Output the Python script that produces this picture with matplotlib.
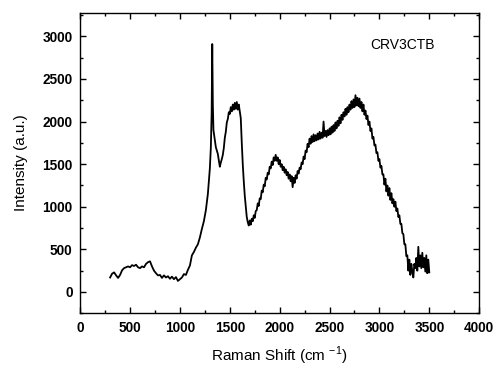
import matplotlib
matplotlib.use('Agg')
import matplotlib.pyplot as plt
from matplotlib.ticker import MultipleLocator

plt.rcParams['font.family'] = ['Liberation Sans', 'DejaVu Sans']
plt.rcParams['mathtext.fontset'] = 'custom'
plt.rcParams['mathtext.rm'] = 'Liberation Sans'

# Raman spectrum (cm-1, a.u.)
# low part, 300 - 1430
shift_low = [300, 320, 340, 360, 380, 400, 420, 440, 460, 480,
             500, 520, 540, 560, 580, 600, 620, 640, 660, 680,
             700, 720, 740, 760, 780, 800, 820, 840, 860, 880,
             900, 920, 940, 960, 980, 1000, 1020, 1040, 1060, 1080,
             1100, 1120, 1140, 1160, 1180, 1200, 1220, 1240, 1260, 1280,
             1300, 1310, 1318, 1324, 1330, 1336, 1350, 1360, 1380, 1400,
             1410, 1420, 1430]
int_low = [170, 215, 230, 195, 165, 200, 255, 280, 290, 300,
           290, 315, 305, 320, 290, 280, 300, 290, 330, 350,
           360, 300, 250, 220, 195, 200, 165, 195, 170, 185,
           155, 180, 150, 175, 130, 150, 170, 210, 200, 260,
           310, 430, 470, 520, 560, 640, 740, 830, 960, 1150,
           1450, 1700, 2100, 2910, 2200, 1900, 1780, 1700, 1620, 1470,
           1520, 1560, 1610]

# high part, 1440 - 3500
shift_high = [1440, 1450, 1460, 1470, 1480, 1490, 1500, 1510, 1520, 1530,
              1540, 1550, 1560, 1570, 1580, 1590, 1600, 1610, 1620, 1630,
              1640, 1650, 1660, 1670, 1680, 1690, 1700, 1710, 1720, 1730,
              1740, 1750, 1760, 1770, 1780, 1790, 1800, 1810, 1820, 1830,
              1840, 1850, 1860, 1870, 1880, 1890, 1900, 1910, 1920, 1930,
              1940, 1950, 1960, 1970, 1980, 1990, 2000, 2010, 2020, 2030,
              2040, 2050, 2060, 2070, 2080, 2090, 2100, 2110, 2120, 2130,
              2140, 2150, 2160, 2170, 2180, 2190, 2200, 2210, 2220, 2230,
              2240, 2250, 2260, 2270, 2280, 2290, 2300, 2310, 2320, 2330,
              2340, 2350, 2360, 2370, 2380, 2390, 2400, 2410, 2420, 2430,
              2440, 2450, 2460, 2470, 2480, 2490, 2500, 2510, 2520, 2530,
              2540, 2550, 2560, 2570, 2580, 2590, 2600, 2610, 2620, 2630,
              2640, 2650, 2660, 2670, 2680, 2690, 2700, 2710, 2720, 2730,
              2740, 2750, 2760, 2770, 2780, 2790, 2800, 2810, 2820, 2830,
              2840, 2850, 2860, 2870, 2880, 2890, 2900, 2910, 2920, 2930,
              2940, 2950, 2960, 2970, 2980, 2990, 3000, 3010, 3020, 3030,
              3040, 3050, 3060, 3070, 3080, 3090, 3100, 3110, 3120, 3130,
              3140, 3150, 3160, 3170, 3180, 3190, 3200, 3210, 3220, 3230,
              3240, 3250, 3260, 3270, 3280, 3290, 3300, 3310, 3320, 3330,
              3340, 3350, 3360, 3370, 3380, 3390, 3400, 3410, 3420, 3430,
              3440, 3450, 3460, 3470, 3480, 3490, 3500]
int_high = [1690, 1810, 1880, 1990, 2030, 2110, 2090, 2170, 2120, 2200,
            2140, 2220, 2150, 2230, 2140, 2200, 2120, 2040, 1750, 1500,
            1300, 1130, 1000, 880, 820, 780, 840, 790, 860, 830,
            900, 870, 950, 960, 1040, 1010, 1100, 1090, 1190, 1170,
            1260, 1240, 1340, 1320, 1400, 1380, 1470, 1450, 1530, 1490,
            1580, 1540, 1610, 1540, 1580, 1500, 1550, 1470, 1500, 1430,
            1470, 1400, 1440, 1370, 1410, 1330, 1380, 1300, 1360, 1230,
            1340, 1280, 1370, 1330, 1420, 1390, 1460, 1440, 1520, 1500,
            1590, 1560, 1660, 1640, 1740, 1700, 1800, 1740, 1830, 1760,
            1850, 1770, 1840, 1780, 1860, 1790, 1880, 1800, 1870, 1810,
            2000, 1830, 1890, 1820, 1900, 1840, 1920, 1850, 1940, 1870,
            1960, 1890, 1990, 1920, 2010, 1950, 2050, 1980, 2080, 2020,
            2110, 2060, 2150, 2080, 2170, 2110, 2200, 2140, 2240, 2160,
            2260, 2170, 2310, 2190, 2280, 2180, 2270, 2160, 2230, 2120,
            2200, 2080, 2130, 2030, 2070, 1960, 2000, 1890, 1920, 1800,
            1820, 1720, 1730, 1630, 1640, 1540, 1560, 1460, 1480, 1380,
            1380, 1260, 1330, 1180, 1250, 1130, 1220, 1080, 1160, 1040,
            1090, 1000, 1060, 950, 980, 880, 900, 800, 800, 690,
            680, 560, 560, 420, 430, 250, 380, 200, 330, 240,
            170, 330, 280, 400, 250, 530, 300, 430, 280, 460,
            290, 400, 240, 430, 220, 380, 230]
sample_name = 'CRV3CTB'

fig = plt.figure(figsize=(4.95, 3.69), dpi=100)
ax = fig.add_axes([0.162, 0.151, 0.806, 0.815])
ax.plot(shift_low + shift_high, int_low + int_high, color='black', linewidth=1.3)

ax.set_xlim(0, 4000)
ax.set_ylim(-250, 3280)
ax.xaxis.set_major_locator(MultipleLocator(500))
ax.xaxis.set_minor_locator(MultipleLocator(250))
ax.yaxis.set_major_locator(MultipleLocator(500))
ax.yaxis.set_minor_locator(MultipleLocator(250))
ax.tick_params(which='both', direction='in', top=True, right=True, width=1)
ax.tick_params(which='major', length=4, pad=5.5)
ax.tick_params(which='minor', length=2.5)
for lab in ax.get_xticklabels() + ax.get_yticklabels():
    lab.set_fontweight('bold')
    lab.set_fontsize(9.8)
for sp in ax.spines.values():
    sp.set_linewidth(1)

ax.set_xlabel('Raman Shift (cm $^{\\mathregular{-1}}$)', fontsize=11, labelpad=7)
ax.set_ylabel('Intensity (a.u.)', fontsize=11, labelpad=10)
ax.text(3235, 2900, sample_name, fontsize=10, ha='center', va='center')

fig.savefig('out.png', dpi=100)
